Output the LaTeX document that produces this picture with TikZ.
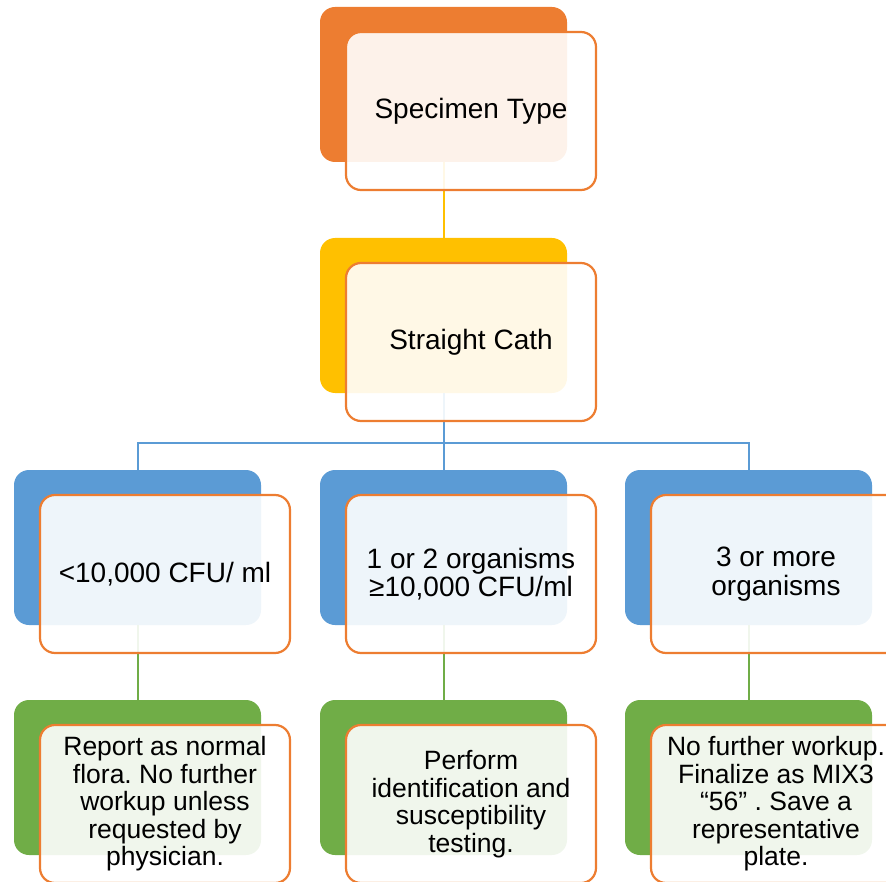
\documentclass[tikz,border=0pt]{standalone}
\usepackage{fontspec}
\setmainfont{Liberation Sans}
\frenchspacing
\usetikzlibrary{positioning}
\definecolor{cardorange}{HTML}{ED7D31}
\definecolor{cardyellow}{HTML}{FFC000}
\definecolor{cardblue}{HTML}{5B9BD5}
\definecolor{cardgreen}{HTML}{70AD47}

\begin{document}
\begin{tikzpicture}[x=1pt,y=-1pt,
    back/.style={rounded corners=15pt,minimum width=247pt,minimum height=155pt,inner sep=0pt},
    front/.style={draw=cardorange,line width=2.2pt,fill=white,fill opacity=0.9,text opacity=1,
      rounded corners=15pt,minimum width=250pt,minimum height=158pt,inner sep=0pt,align=center,
      font=\fontsize{28}{28.5}\selectfont},
    small/.style={font=\fontsize{26.5}{27.5}\selectfont},
    link/.style={line width=2pt}]

    \useasboundingbox (0,0) rectangle (886,882);

    % coloured cards behind
    \node[back,fill=cardorange] (spec) at (443.5,84.5) {};
    \node[back,fill=cardyellow] (cath) at (443.5,315.5) {};
    \node[back,fill=cardblue] (low) at (137.5,547.5) {};
    \node[back,fill=cardblue] (mid) at (443.5,547.5) {};
    \node[back,fill=cardblue] (many) at (748.5,547.5) {};
    \node[back,fill=cardgreen] (lowact) at (137.5,777.5) {};
    \node[back,fill=cardgreen] (midact) at (443.5,777.5) {};
    \node[back,fill=cardgreen] (manyact) at (748.5,777.5) {};

    % connectors
    \coordinate (bus) at (443.5,443);
    \draw[link,cardyellow] (spec.south) -- (cath.north);
    \draw[link,cardblue] (cath.south) -- (bus) -- (mid.north);
    \draw[link,cardblue] (bus) -| (low.north);
    \draw[link,cardblue] (bus) -| (many.north);
    \draw[link,cardgreen] (low.south) -- (lowact.north);
    \draw[link,cardgreen] (mid.south) -- (midact.north);
    \draw[link,cardgreen] (many.south) -- (manyact.north);

    % text boxes on top
    \node[front] (specT) at ([shift={(27.5,26.5)}]spec.center) {Specimen Type};
    \node[front] (cathT) at ([shift={(27.5,26.5)}]cath.center) {Straight Cath};
    \node[front] (lowT) at ([shift={(27.5,26.5)}]low.center) {<10,000 CFU/ ml};
    \node[front] (midT) at ([shift={(27.5,26.5)}]mid.center) {1 or 2 organisms\\≥10,000 CFU/ml};
    \node[front] (manyT) at ([shift={(27.5,26.5)}]many.center) {3 or more\\organisms};
    \node[front,small] (lowactT) at ([shift={(27.5,26.5)}]lowact.center)
      {Report as normal\\flora. No further\\workup unless\\requested by\\physician.};
    \node[front,small] (midactT) at ([shift={(27.5,26.5)}]midact.center)
      {Perform\\identification and\\susceptibility\\testing.};
    \node[front,small] (manyactT) at ([shift={(27.5,26.5)}]manyact.center)
      {No further workup.\\Finalize as MIX3\\“56” . Save a\\representative\\plate.};

\end{tikzpicture}
\end{document}
